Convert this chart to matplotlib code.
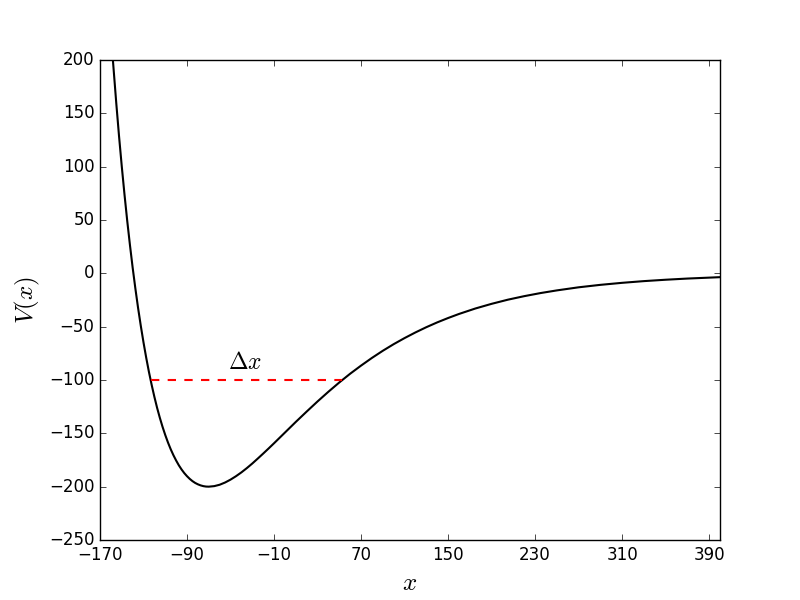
import matplotlib
matplotlib.use('Agg')
import matplotlib.pyplot as plt

# potential curve, values
x_vals = [-160, -158, -155, -152.5, -150, -147.5, -145, -142.5, -140, -137.5, -135,
          -132.5, -130, -127.5, -125, -122.5, -120, -117.5, -115, -112.5, -110,
          -107.5, -105, -102.5, -100, -97.5, -95, -92.5, -90, -87.5, -85, -82.5,
          -80, -77.5, -75, -72.5, -70, -65, -60, -55, -50, -45, -40, -35, -30, -25,
          -20, -15, -10, -5, 0, 10, 20, 30, 40, 50, 60, 70, 80, 90, 100, 110, 120,
          130, 140, 150, 160, 175, 190, 205, 220, 235, 250, 270, 290, 310, 330,
          350, 370, 400]
v_vals = [226, 198, 159, 128.6, 100.4, 74.1, 49.5, 26.8, 5.5, -14.1, -32.4,
          -49.2, -64.8, -79.2, -92.5, -104.6, -115.8, -126.1, -135.4, -143.9, -151.6,
          -158.6, -164.9, -170.5, -175.5, -180.0, -183.9, -187.3, -190.2, -192.7, -194.8, -196.5,
          -197.8, -198.8, -199.5, -199.9, -200, -199.5, -198.2, -196.1, -193.4, -190.2, -186.6, -182.6, -178.3, -173.7,
          -169.0, -164.2, -159.3, -154.3, -149.3, -139.3, -129.6, -120.1, -111.0, -102.3, -94.1, -86.5, -79.3, -72.6, -66.4, -60.7, -55.4,
          -50.5, -46.0, -41.9, -38.1, -33.0, -28.6, -24.7, -21.4, -18.5, -16.0, -13.1, -10.8, -8.9, -7.3,
          -6.0, -4.9, -3.6]

# width of the well at V = -100
dx_left = -123.5
dx_right = 52.8
dx_level = -100

xticks = [-170, -90, -10, 70, 150, 230, 310, 390]

plt.style.use('classic')
fig = plt.figure(figsize=(8, 6), dpi=100, facecolor='white')
ax = fig.add_subplot(111)

ax.plot(x_vals, v_vals, color='black', linewidth=1.5)
ax.plot([dx_left, dx_right], [dx_level, dx_level], 'r--', linewidth=1.5)
ax.text(-52, -90, r'$\Delta x$', fontsize=17)

ax.set_xlim(-170, 400)
ax.set_ylim(-250, 200)
ax.set_xticks(xticks)
ax.set_xlabel(r'$x$', fontsize=18)
ax.set_ylabel(r'$V(x)$', fontsize=18)

fig.savefig('out.png', dpi=100, facecolor='white')
